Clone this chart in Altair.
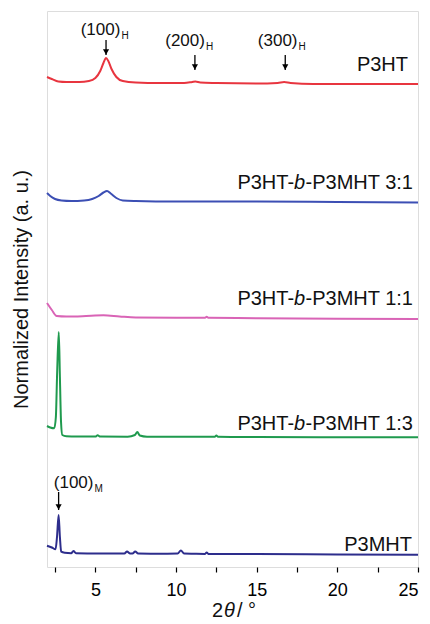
import altair as alt
import pandas as pd

FONT = "Liberation Sans, Arial, sans-serif"

# ---- traces: 2theta (deg) and stacked normalized intensity (a.u.) ----
p3ht_x = [2.0, 2.3, 2.7, 3.2, 4.0, 4.6, 5.0, 5.3, 5.5, 5.66, 5.8, 6.0, 6.3, 6.7, 7.5, 9.0, 10.5, 11.0, 11.2, 11.5, 12.5, 15.0, 16.3, 16.7, 17.1, 18.5, 25.0]
p3ht_y = [490, 488, 485.5, 485, 485, 486, 489, 496, 504, 509, 506, 498, 490, 486, 484.5, 484, 484, 485, 485.5, 484.5, 484, 483.5, 484, 485, 484, 483, 483]

b31_x = [2.0, 2.2, 2.5, 2.9, 3.5, 4.3, 4.8, 5.2, 5.5, 5.72, 5.95, 6.3, 6.7, 7.5, 10.0, 12.0, 15.0, 20.0, 25.0]
b31_y = [374, 371, 368, 366.5, 366, 366.5, 368, 371, 374.5, 376, 373.5, 369, 366.5, 366, 365.5, 365.5, 365.5, 365, 364.5]

b11_x = [2.0, 2.3, 2.6, 3.2, 4.2, 5.5, 6.5, 7.5, 10.0, 11.8, 11.9, 12.0, 15.0, 20.0, 25.0]
b11_y = [264, 257, 251, 250.5, 250.8, 251.7, 250.5, 249.5, 249.2, 249.2, 250.2, 249.2, 248.8, 248.3, 248]

b13_x = [2.0, 2.2, 2.45, 2.55, 2.63, 2.73, 2.8, 2.87, 2.95, 3.2, 4.0, 5.0, 5.14, 5.3, 7.0, 7.45, 7.6, 7.75, 8.2, 10.0, 12.4, 12.5, 12.6, 15.0, 20.0, 25.0]
b13_y = [141, 139.5, 138.7, 150, 195, 235, 190, 145, 132, 130.8, 130.5, 130.4, 131.7, 130.4, 130.3, 132, 135, 131.5, 130.3, 130.2, 130.2, 131.5, 130.2, 130, 129.8, 129.7]

p3mht_x = [2.0, 2.3, 2.53, 2.62, 2.72, 2.8, 2.88, 3.1, 3.5, 3.64, 3.8, 5.0, 6.8, 6.96, 7.15, 7.3, 7.47, 7.65, 9.0, 10.1, 10.3, 10.5, 11.0, 11.8, 11.9, 12.0, 15.0, 20.0, 25.0]
p3mht_y = [21.3, 19.5, 17.7, 30, 52, 30, 15.3, 14.2, 13.8, 16, 13.8, 13.6, 13.5, 15.5, 13.5, 13.5, 15.5, 13.4, 13.3, 13.4, 16.5, 13.4, 13.2, 13.1, 14.5, 13.1, 12.9, 12.6, 12.3]

series_names = ["P3HT", "P3HT-b-P3MHT 3:1", "P3HT-b-P3MHT 1:1", "P3HT-b-P3MHT 1:3", "P3MHT"]
series_colors = ["#e8353f", "#3c4fb4", "#d964b6", "#1f9a4e", "#2d2d8c"]
series_x = [p3ht_x, b31_x, b11_x, b13_x, p3mht_x]
series_y = [p3ht_y, b31_y, b11_y, b13_y, p3mht_y]

# series label anchors (intensity at the text baseline)
label_pre = ["", "P3HT-", "P3HT-", "P3HT-", ""]
label_ital = ["", "b", "b", "b", ""]
label_post = ["P3HT", "-P3MHT 3:1", "-P3MHT 1:1", "-P3MHT 1:3", "P3MHT"]
label_y = [496, 378, 262, 137, 16.3]
label_shift = [-10, -5, -5, -5, -6]

# peak annotations
ann_main = ["(100)", "(200)", "(300)", "(100)"]
ann_sub = ["H", "H", "H", "M"]
ann_arrow_x = [5.66, 11.17, 16.77, 2.72]
ann_arrow_top = [527, 512, 512, 75]
ann_arrow_bot = [512, 497, 497, 57]
ann_text_x = [6.55, 11.79, 17.53, 4.88]
ann_text_y = [532, 521, 521, 79]

rows = []
for name, xs, ys in zip(series_names, series_x, series_y):
    for x, y in zip(xs, ys):
        rows.append({"series": name, "theta": x, "inten": y})
df = pd.DataFrame(rows)

lab = pd.DataFrame({"pre": label_pre, "ital": label_ital, "post": label_post,
                    "y": label_y, "x": [25.0] * 5})
ann = pd.DataFrame({"main": ann_main, "sub": ann_sub, "ax": ann_arrow_x,
                    "atop": ann_arrow_top, "abot": ann_arrow_bot,
                    "tx": ann_text_x, "ty": ann_text_y})

xscale = alt.Scale(domain=[2, 25], nice=False, zero=False)
yscale = alt.Scale(domain=[0, 556], nice=False, zero=False)

lines = alt.Chart(df).mark_line(strokeWidth=2, interpolate="monotone").encode(
    x=alt.X("theta:Q", scale=xscale,
            axis=alt.Axis(values=[2.5, 5, 7.5, 10, 12.5, 15, 17.5, 20, 22.5, 25],
                          labelExpr="datum.value % 5 == 0 ? datum.label : ''",
                          tickSize=5, tickColor="black", tickWidth=1.2,
                          labelFontSize=18, labelColor="black", labelFont=FONT,
                          labelPadding=9, domain=False, grid=False, title=None)),
    y=alt.Y("inten:Q", scale=yscale,
            axis=alt.Axis(domain=False, ticks=False, labels=False, grid=False,
                          title="Normalized Intensity (a. u.)", titleFontSize=20,
                          titleFontWeight="normal", titleFont=FONT, titleColor="#111",
                          titlePadding=16)),
    color=alt.Color("series:N", scale=alt.Scale(domain=series_names, range=series_colors),
                    legend=None),
    detail="series:N",
)

FS = 20
# widths (Arial metrics) used to chain label parts right-to-left
post_w = [2.556 * FS, 5.39 * FS, 5.39 * FS, 5.39 * FS, 3.389 * FS]

layers = [lines]
for i in range(5):
    one = lab.iloc[[i]]
    s = label_shift[i]
    layers.append(alt.Chart(one).mark_text(align="right", baseline="alphabetic", fontSize=FS,
                                           font=FONT, color="#111", dx=s).encode(
        x=alt.X("x:Q", scale=xscale), y=alt.Y("y:Q", scale=yscale), text="post:N"))
    if label_ital[i]:
        layers.append(alt.Chart(one).mark_text(align="right", baseline="alphabetic", fontSize=FS,
                                               font=FONT, fontStyle="italic", color="#111",
                                               dx=s - post_w[i]).encode(
            x=alt.X("x:Q", scale=xscale), y=alt.Y("y:Q", scale=yscale), text="ital:N"))
        layers.append(alt.Chart(one).mark_text(align="right", baseline="alphabetic", fontSize=FS,
                                               font=FONT, color="#111",
                                               dx=s - post_w[i] - 0.556 * FS).encode(
            x=alt.X("x:Q", scale=xscale), y=alt.Y("y:Q", scale=yscale), text="pre:N"))

arrows = alt.Chart(ann).mark_rule(color="black", strokeWidth=1.3).encode(
    x=alt.X("ax:Q", scale=xscale), y=alt.Y("atop:Q", scale=yscale), y2="abot:Q")
heads = alt.Chart(ann).mark_point(shape="triangle-down", filled=True, color="black",
                                  size=38, opacity=1, yOffset=-3).encode(
    x=alt.X("ax:Q", scale=xscale), y=alt.Y("abot:Q", scale=yscale))
ann_t = alt.Chart(ann).mark_text(align="right", baseline="alphabetic", fontSize=17,
                                 font=FONT, color="#111").encode(
    x=alt.X("tx:Q", scale=xscale), y=alt.Y("ty:Q", scale=yscale), text="main:N")
ann_s = alt.Chart(ann).mark_text(align="left", baseline="alphabetic", fontSize=10,
                                 font=FONT, color="#111", dx=1, dy=4).encode(
    x=alt.X("tx:Q", scale=xscale), y=alt.Y("ty:Q", scale=yscale), text="sub:N")
layers += [arrows, heads, ann_t, ann_s]

# x axis title: 2θ/ °
xt = pd.DataFrame({"t": ["2", "θ", "/ °"]})
TY = 606
t1 = alt.Chart(xt.iloc[[0]]).mark_text(align="right", baseline="alphabetic", fontSize=20,
                                       font=FONT, color="#111").encode(
    x=alt.value(176), y=alt.value(TY), text="t:N")
t2 = alt.Chart(xt.iloc[[1]]).mark_text(align="left", baseline="alphabetic", fontSize=20,
                                       font=FONT, fontStyle="italic", color="#111").encode(
    x=alt.value(177), y=alt.value(TY), text="t:N")
t3 = alt.Chart(xt.iloc[[2]]).mark_text(align="left", baseline="alphabetic", fontSize=20,
                                       font=FONT, color="#111").encode(
    x=alt.value(190), y=alt.value(TY), text="t:N")
layers += [t1, t2, t3]

chart = alt.layer(*layers).properties(
    width=371, height=556,
    autosize=alt.AutoSizeParams(type="none"),
    padding={"left": 39, "top": 3, "right": 4, "bottom": 57},
).configure_view(stroke="black", strokeWidth=1.5).configure(background="white")

chart.save("out.html", embed_options={"renderer": "svg", "actions": False})
